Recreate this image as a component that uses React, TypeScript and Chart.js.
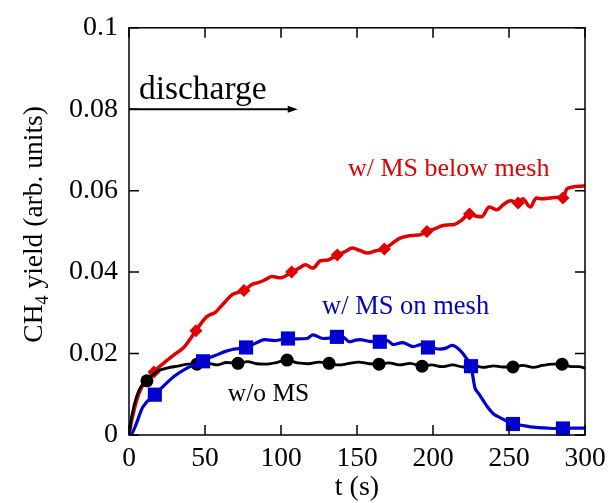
import React, { useEffect, useRef } from 'react';
import { Chart, registerables } from 'chart.js';

Chart.register(...registerables);

// ---------- data ----------
const X_TICKS = [0, 50, 100, 150, 200, 250, 300];
const X_TICK_LABELS = ['0', '50', '100', '150', '200', '250', '300'];
const Y_TICKS = [0, 0.02, 0.04, 0.06, 0.08, 0.1];
const Y_TICK_LABELS = ['0', '0.02', '0.04', '0.06', '0.08', '0.1'];

const X_TITLE = 't (s)';
const Y_TITLE_MAIN = 'CH';
const Y_TITLE_SUB = '4';
const Y_TITLE_REST = ' yield (arb. units)';

// w/ MS below mesh (red)
const RED_T = [0, 2, 5, 8, 12, 16.4, 24, 30, 36, 44, 51, 57, 63, 68, 75.6, 81, 85, 90, 94, 100, 107, 112, 116, 121, 126, 131, 137, 142, 147, 152, 157, 162, 168, 173, 178, 183, 187, 192, 196, 201, 206, 210, 214, 219, 224, 228, 232, 237, 242, 246, 251, 256, 259, 264, 268, 272, 277, 282, 285.5, 288, 292, 296, 300];
const RED_V = [0, 0.004, 0.0085, 0.0115, 0.0135, 0.0155, 0.018, 0.0198, 0.0215, 0.0256, 0.029, 0.0302, 0.0326, 0.0345, 0.0355, 0.037, 0.0374, 0.0382, 0.0389, 0.0386, 0.04, 0.041, 0.0418, 0.041, 0.0428, 0.043, 0.0442, 0.045, 0.0459, 0.0453, 0.0447, 0.0452, 0.0457, 0.047, 0.0483, 0.0488, 0.049, 0.0492, 0.05, 0.0506, 0.0514, 0.0516, 0.0517, 0.0528, 0.0543, 0.0538, 0.0536, 0.056, 0.0553, 0.0565, 0.0575, 0.057, 0.058, 0.056, 0.0582, 0.058, 0.0582, 0.0584, 0.0582, 0.0604, 0.0609, 0.0611, 0.0612];
const RED_MARK_T = [16.4, 44, 75.6, 107, 137, 168, 196, 224, 256, 285.5];
const RED_MARK_V = [0.0155, 0.0256, 0.0355, 0.04, 0.0442, 0.0457, 0.05, 0.0543, 0.057, 0.0582];

// w/ MS on mesh (blue)
const BLUE_T = [0, 1, 4, 9, 17, 24, 30, 37, 43, 48.7, 53, 58.5, 64, 68, 72, 77, 83, 89.5, 96, 104.6, 111, 117, 121, 127.6, 132, 136.8, 141, 145, 149, 152, 158, 165, 170, 174, 180, 187, 192, 196.7, 200, 205, 209, 212.5, 217.8, 222, 225, 227.6, 230, 233, 236, 239.5, 245, 252.6, 258, 264, 270, 275, 280, 285.5, 292, 300];
const BLUE_V = [0, 0, 0.002, 0.0068, 0.0099, 0.0125, 0.0145, 0.0162, 0.0172, 0.0181, 0.019, 0.0198, 0.0206, 0.021, 0.0212, 0.0215, 0.0225, 0.0234, 0.0232, 0.0237, 0.0236, 0.0237, 0.0246, 0.0237, 0.0238, 0.0241, 0.024, 0.0229, 0.0233, 0.0234, 0.023, 0.0229, 0.0232, 0.0222, 0.0227, 0.0217, 0.0222, 0.0215, 0.0213, 0.0211, 0.0214, 0.022, 0.0208, 0.0188, 0.0169, 0.0116, 0.0102, 0.0085, 0.0068, 0.0053, 0.0041, 0.0027, 0.0024, 0.002, 0.0018, 0.0017, 0.0016, 0.0016, 0.0017, 0.0017];
const BLUE_MARK_T = [17, 48.7, 77, 104.6, 136.8, 165, 196.7, 225, 252.6, 285.5];
const BLUE_MARK_V = [0.0099, 0.0181, 0.0215, 0.0237, 0.0241, 0.0229, 0.0215, 0.0169, 0.0027, 0.0016];

// w/o MS (black)
const BLACK_T = [0, 2, 5, 8, 11.8, 19, 25.6, 32, 39, 44.7, 52, 58, 64, 71.7, 78, 84, 90, 97, 104, 111, 118, 125, 131.6, 138, 145, 151, 158, 164.5, 171, 178, 185, 192.8, 199, 206, 213, 220, 226, 233, 240, 246, 252.6, 259, 266, 272, 279, 284.9, 291, 296, 300];
const BLACK_V = [0, 0.005, 0.0095, 0.012, 0.0133, 0.0157, 0.0165, 0.0169, 0.0174, 0.0174, 0.0176, 0.0172, 0.0178, 0.0176, 0.018, 0.0175, 0.0174, 0.0178, 0.0184, 0.0177, 0.0175, 0.0179, 0.0176, 0.0172, 0.0176, 0.0179, 0.0175, 0.0174, 0.0177, 0.0172, 0.0176, 0.0169, 0.0172, 0.0168, 0.0172, 0.0167, 0.0171, 0.0166, 0.017, 0.0167, 0.0167, 0.0171, 0.0166, 0.0171, 0.0174, 0.0174, 0.0168, 0.0168, 0.0164];
const BLACK_MARK_T = [11.8, 44.7, 71.7, 104, 131.6, 164.5, 192.8, 252.6, 284.9];
const BLACK_MARK_V = [0.0133, 0.0174, 0.0176, 0.0184, 0.0176, 0.0174, 0.0169, 0.0167, 0.0174];

// annotations (data coordinates)
const LABEL_TEXTS = ['discharge', 'w/ MS below mesh', 'w/ MS on mesh', 'w/o MS'];
const LABEL_T = [6.5, 144, 127, 65];
const LABEL_V = [0.0826, 0.0635, 0.0297, 0.00845];
const LABEL_SIZES = [33.5, 26, 26.5, 25.5];
const LABEL_COLORS = ['#000000', '#e00000', '#0000c8', '#000000'];
const ARROW_T = [0, 111];
const ARROW_V = 0.08;

const RED = '#e00000';
const BLUE = '#0000d0';
const BLACK = '#000000';
const FONT = "'Liberation Serif', 'DejaVu Serif', serif";

const pts = (t: number[], v: number[]) => t.map((x, i) => ({ x, y: v[i] }));

const framePlugin = {
  id: 'framePlugin',
  afterDraw(chart: any) {
    const { ctx, chartArea } = chart;
    const xs = chart.scales.x;
    const ys = chart.scales.y;
    const { left, right, top, bottom } = chartArea;
    ctx.save();
    ctx.strokeStyle = '#000';
    ctx.lineWidth = 1.5;
    ctx.strokeRect(left, top, right - left, bottom - top);
    const tl = 10;
    ctx.beginPath();
    X_TICKS.forEach((v) => {
      const px = xs.getPixelForValue(v);
      ctx.moveTo(px, bottom);
      ctx.lineTo(px, bottom - tl);
      ctx.moveTo(px, top);
      ctx.lineTo(px, top + tl);
    });
    Y_TICKS.forEach((v) => {
      const py = ys.getPixelForValue(v);
      ctx.moveTo(left, py);
      ctx.lineTo(left + tl, py);
      ctx.moveTo(right, py);
      ctx.lineTo(right - tl, py);
    });
    ctx.stroke();

    // arrow
    const ax0 = xs.getPixelForValue(ARROW_T[0]);
    const ax1 = xs.getPixelForValue(ARROW_T[1]);
    const ay = ys.getPixelForValue(ARROW_V);
    ctx.lineWidth = 2;
    ctx.beginPath();
    ctx.moveTo(ax0, ay);
    ctx.lineTo(ax1 - 8, ay);
    ctx.stroke();
    ctx.fillStyle = '#000';
    ctx.beginPath();
    ctx.moveTo(ax1, ay);
    ctx.lineTo(ax1 - 10, ay - 3.5);
    ctx.lineTo(ax1 - 10, ay + 3.5);
    ctx.closePath();
    ctx.fill();

    // labels
    ctx.textAlign = 'left';
    ctx.textBaseline = 'alphabetic';
    LABEL_TEXTS.forEach((txt, i) => {
      ctx.font = `${LABEL_SIZES[i]}px ${FONT}`;
      ctx.fillStyle = LABEL_COLORS[i];
      ctx.fillText(txt, xs.getPixelForValue(LABEL_T[i]), ys.getPixelForValue(LABEL_V[i]));
    });

    // x title
    ctx.fillStyle = '#000';
    ctx.font = `28px ${FONT}`;
    ctx.textAlign = 'center';
    ctx.fillText(X_TITLE, (left + right) / 2, 495);

    // y title with subscript
    const mainFont = `27.5px ${FONT}`;
    const subFont = `18px ${FONT}`;
    ctx.font = mainFont;
    const w1 = ctx.measureText(Y_TITLE_MAIN).width;
    const w3 = ctx.measureText(Y_TITLE_REST).width;
    ctx.font = subFont;
    const w2 = ctx.measureText(Y_TITLE_SUB).width;
    const total = w1 + w2 + w3;
    const cy = (top + bottom) / 2 - 7;
    ctx.translate(42, cy);
    ctx.rotate(-Math.PI / 2);
    ctx.textAlign = 'left';
    let x0 = -total / 2;
    ctx.font = mainFont;
    ctx.fillText(Y_TITLE_MAIN, x0, 0);
    x0 += w1;
    ctx.font = subFont;
    ctx.fillText(Y_TITLE_SUB, x0, 6);
    x0 += w2;
    ctx.font = mainFont;
    ctx.fillText(Y_TITLE_REST, x0, 0);
    ctx.restore();
  },
};

export default function App() {
  const ref = useRef<HTMLCanvasElement | null>(null);
  useEffect(() => {
    if (!ref.current) return;
    const lineDs = (label: string, t: number[], v: number[], color: string, width: number, order: number) => ({
      label,
      data: pts(t, v),
      borderColor: color,
      backgroundColor: color,
      borderWidth: width,
      pointRadius: 0,
      cubicInterpolationMode: 'monotone' as const,
      fill: false,
      order,
    });
    const markDs = (label: string, t: number[], v: number[], color: string, style: string, radius: number, order: number) => ({
      label,
      data: pts(t, v),
      showLine: false,
      borderColor: color,
      backgroundColor: color,
      borderWidth: 0,
      pointStyle: style,
      pointRadius: radius,
      clip: false as any,
      order,
    });
    const chart = new Chart(ref.current, {
      type: 'line',
      data: {
        datasets: [
          lineDs('red', RED_T, RED_V, RED, 3.5, 5),
          markDs('red m', RED_MARK_T, RED_MARK_V, RED, 'rectRot', 6.5, 4),
          lineDs('black', BLACK_T, BLACK_V, BLACK, 2.8, 3),
          markDs('black m', BLACK_MARK_T, BLACK_MARK_V, BLACK, 'circle', 6.5, 2),
          lineDs('blue', BLUE_T, BLUE_V, BLUE, 3.2, 1),
          markDs('blue m', BLUE_MARK_T, BLUE_MARK_V, BLUE, 'rect', 10, 0),
        ] as any,
      },
      options: {
        animation: false,
        responsive: true,
        maintainAspectRatio: false,
        layout: { padding: { left: 0, right: 31, top: 22, bottom: 0 } },
        plugins: { legend: { display: false }, tooltip: { enabled: false } },
        scales: {
          x: {
            type: 'linear',
            min: 0,
            max: 300,
            afterBuildTicks: (s: any) => {
              s.ticks = X_TICKS.map((value) => ({ value }));
            },
            afterFit: (s: any) => {
              s.height = 68;
            },
            grid: { display: false, drawTicks: false },
            border: { display: false },
            ticks: {
              padding: 7,
              color: '#000',
              font: { family: FONT, size: 27.5 },
              maxRotation: 0,
              callback: (_v: any, i: number) => X_TICK_LABELS[i],
            },
          },
          y: {
            type: 'linear',
            min: 0,
            max: 0.1,
            afterBuildTicks: (s: any) => {
              s.ticks = Y_TICKS.map((value) => ({ value }));
            },
            afterFit: (s: any) => {
              s.width = 129;
            },
            grid: { display: false, drawTicks: false },
            border: { display: false },
            ticks: {
              padding: 11,
              color: '#000',
              font: { family: FONT, size: 28 },
              callback: (_v: any, i: number) => Y_TICK_LABELS[i],
            },
          },
        },
      },
      plugins: [framePlugin],
    });
    return () => chart.destroy();
  }, []);
  return (
    <div style={{ position: 'absolute', left: 0, top: 0, width: 616, height: 503, background: '#fff' }}>
      <canvas ref={ref} />
    </div>
  );
}
